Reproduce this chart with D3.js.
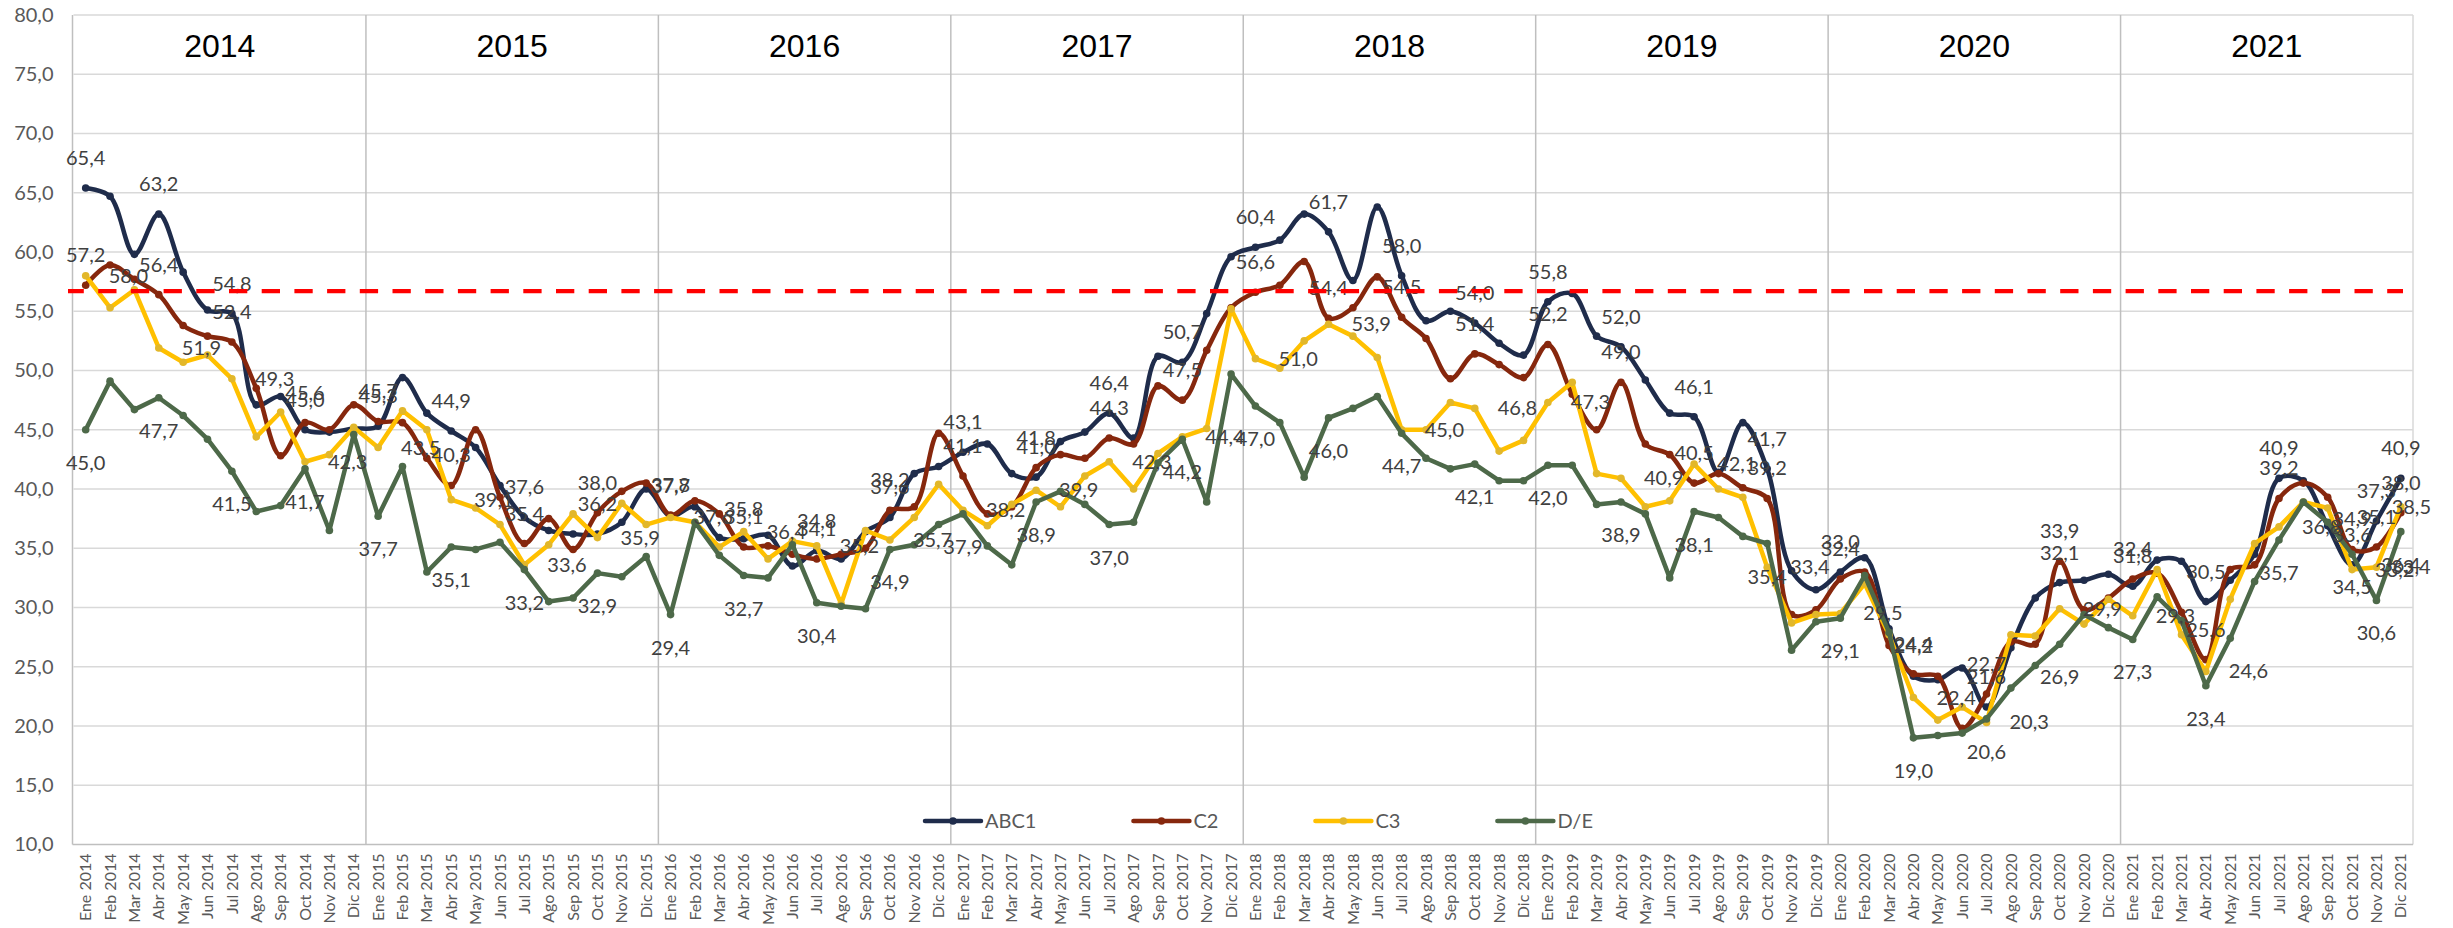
<!DOCTYPE html>
<html><head><meta charset="utf-8">
<script src="https://cdn.jsdelivr.net/npm/d3@7"></script>
<style>body{margin:0;background:#fff;} svg{display:block;}</style>
</head><body>
<svg id="chart" width="2453" height="928"></svg>
<script>
const years = [2014, 2015, 2016, 2017, 2018, 2019, 2020, 2021];
const monthNames = ["Ene","Feb","Mar","Abr","May","Jun","Jul","Ago","Sep","Oct","Nov","Dic"];
const categories = years.flatMap(y => monthNames.map(m => m + " " + y));

const abc1 = [
  65.4, 64.7, 59.8, 63.2, 58.3, 55.1, 54.8, 47.1, 47.8, 45.0, 44.8, 45.1,
  45.3, 49.4, 46.4, 44.9, 43.5, 40.3, 37.6, 36.5, 36.2, 36.2, 37.2, 40.0,
  37.7, 38.5, 35.9, 35.8, 36.1, 33.5, 34.8, 34.1, 36.4, 37.6, 41.3, 41.9,
  43.1, 43.8, 41.3, 41.0, 44.0, 44.8, 46.4, 44.3, 51.2, 50.7, 54.8, 59.6,
  60.4, 61.0, 63.2, 61.7, 57.6, 63.8, 58.0, 54.2, 55.0, 54.0, 52.3, 51.3,
  55.8, 56.5, 52.9, 52.0, 49.2, 46.4, 46.1, 41.4, 45.6, 41.7, 33.1, 31.5,
  33.0, 34.2, 28.2, 24.2, 23.9, 24.9, 21.6, 26.6, 30.8, 32.1, 32.3, 32.8,
  31.8, 34.0, 33.9, 30.5, 32.3, 34.5, 40.9, 40.7, 36.9, 33.6, 37.3, 40.9
];
const c2 = [
  57.2, 58.9, 57.7, 56.4, 53.8, 52.9, 52.4, 48.5, 42.8, 45.6, 45.0, 47.1,
  45.7, 45.6, 42.6, 40.3, 45.0, 39.3, 35.4, 37.5, 34.9, 38.0, 39.8, 40.5,
  37.8, 39.0, 37.9, 35.1, 35.2, 34.5, 34.1, 34.5, 35.0, 38.2, 38.5, 44.7,
  41.1, 37.9, 38.5, 41.8, 42.9, 42.6, 44.3, 43.8, 48.7, 47.5, 51.7, 55.3,
  56.6, 57.2, 59.2, 54.4, 55.3, 57.9, 54.5, 52.7, 49.3, 51.4, 50.5, 49.4,
  52.2, 48.0, 45.0, 49.0, 43.8, 42.9, 40.5, 41.3, 40.1, 39.2, 29.4, 29.8,
  32.4, 33.0, 26.8, 24.4, 24.2, 19.8, 22.7, 27.1, 26.9, 33.9, 29.8, 30.8,
  32.4, 32.9, 29.6, 25.6, 33.2, 33.6, 39.2, 40.5, 39.3, 34.9, 35.1, 38.0
];
const c3 = [
  58.0, 55.3, 56.8, 51.9, 50.7, 51.3, 49.3, 44.4, 46.5, 42.3, 42.9, 45.2,
  43.5, 46.6, 45.0, 39.1, 38.4, 37.0, 33.6, 35.3, 37.9, 35.9, 38.8, 37.0,
  37.6, 37.2, 35.1, 36.4, 34.1, 35.6, 35.2, 30.3, 36.5, 35.7, 37.6, 40.4,
  38.2, 36.9, 38.7, 39.9, 38.5, 41.1, 42.3, 40.0, 43.0, 44.4, 45.1, 55.2,
  51.0, 50.2, 52.5, 53.9, 52.9, 51.1, 45.0, 45.0, 47.3, 46.8, 43.2, 44.1,
  47.3, 49.0, 41.3, 40.9, 38.5, 39.0, 42.1, 40.0, 39.3, 33.4, 28.7, 29.4,
  29.5, 32.0, 27.7, 22.4, 20.5, 21.6, 20.3, 27.7, 27.6, 29.9, 28.6, 30.7,
  29.3, 33.2, 27.7, 24.6, 30.7, 35.4, 36.8, 38.9, 38.4, 33.2, 33.4, 38.5
];
const de = [
  45.0, 49.1, 46.7, 47.7, 46.2, 44.2, 41.5, 38.1, 38.6, 41.7, 36.5, 44.6,
  37.7, 41.9, 33.0, 35.1, 34.9, 35.5, 33.2, 30.5, 30.8, 32.9, 32.6, 34.3,
  29.4, 37.2, 34.4, 32.7, 32.5, 35.3, 30.4, 30.1, 29.9, 34.9, 35.3, 37.0,
  37.9, 35.2, 33.6, 38.9, 39.8, 38.7, 37.0, 37.2, 42.2, 44.2, 38.9, 49.7,
  47.0, 45.6, 41.0, 46.0, 46.8, 47.8, 44.7, 42.6, 41.7, 42.1, 40.7, 40.7,
  42.0, 42.0, 38.7, 38.9, 37.9, 32.5, 38.1, 37.6, 36.0, 35.4, 26.4, 28.8,
  29.1, 32.7, 27.9, 19.0, 19.2, 19.4, 20.6, 23.2, 25.1, 26.9, 29.4, 28.3,
  27.3, 30.9, 28.9, 23.4, 27.4, 32.2, 35.7, 38.9, 37.2, 34.5, 30.6, 36.4
];
const seriesNames = ["ABC1", "C2", "C3", "D/E"];
const seriesColors = ["#1f2c4b", "#86270d", "#ffc000", "#4d6949"];
const labelPositions = ["above", "above", "right", "below"];
const smoothFlags = [true, true, false, false];
const yTicks = [10, 15, 20, 25, 30, 35, 40, 45, 50, 55, 60, 65, 70, 75, 80];
const threshold = 56.7;

const seriesValues = [abc1, c2, c3, de];
const W = 2453, H = 928;
const pL = 73.5, pR = 2413, pT = 15, pB = 844.5;
const svg = d3.select("#chart");
svg.append("rect").attr("width", W).attr("height", H).attr("fill", "#fff");

const x = d3.scaleBand().domain(categories).range([pL, pR]).padding(0);
const bw = x.bandwidth();
const cx = c => x(c) + bw / 2;
const y = d3.scaleLinear().domain([10, 80]).range([pB, pT]);
const fmt = v => d3.format(".1f")(v).replace(".", ",");
const font = "Lato, 'Open Sans', sans-serif";

// horizontal gridlines
svg.append("g").selectAll("line").data(yTicks.filter(t => t > 10)).join("line")
  .attr("x1", pL).attr("x2", pR)
  .attr("y1", d => y(d)).attr("y2", d => y(d))
  .attr("stroke", "#d9d9d9").attr("stroke-width", 1.5);

// year separators
svg.append("g").selectAll("line").data(years.slice(1)).join("line")
  .attr("x1", d => x("Ene " + d)).attr("x2", d => x("Ene " + d))
  .attr("y1", pT).attr("y2", pB)
  .attr("stroke", "#bfbfbf").attr("stroke-width", 1.5);

// right border, left axis line, bottom axis line
svg.append("line").attr("x1", pR).attr("x2", pR).attr("y1", pT).attr("y2", pB)
  .attr("stroke", "#d9d9d9").attr("stroke-width", 1.5);
svg.append("line").attr("x1", pL - 1).attr("x2", pL - 1).attr("y1", pT).attr("y2", pB)
  .attr("stroke", "#bfbfbf").attr("stroke-width", 1.5);
svg.append("line").attr("x1", pL - 1).attr("x2", pR).attr("y1", pB).attr("y2", pB)
  .attr("stroke", "#bfbfbf").attr("stroke-width", 1.5);

// y axis
const yAxis = svg.append("g").attr("transform", `translate(${pL - 1},0)`)
  .call(d3.axisLeft(y).tickValues(yTicks).tickFormat(fmt).tickSize(0).tickPadding(19));
yAxis.select(".domain").remove();
yAxis.selectAll("text").attr("font-family", font).attr("font-size", 20).attr("fill", "#595959");

// x axis
const xAxis = svg.append("g").attr("transform", `translate(0,${pB})`)
  .call(d3.axisBottom(x).tickSize(0));
xAxis.select(".domain").remove();
xAxis.selectAll("text")
  .attr("transform", "rotate(-90)")
  .attr("text-anchor", "end")
  .attr("x", -9).attr("y", 0).attr("dy", "0.35em")
  .attr("font-family", font).attr("font-size", 16).attr("fill", "#595959");

// year labels
svg.append("g").selectAll("text").data(years).join("text")
  .attr("x", d => x("Ene " + d) + 6 * bw)
  .attr("y", 57)
  .attr("text-anchor", "middle")
  .attr("font-family", "'Liberation Sans', Arial, sans-serif")
  .attr("font-size", 32).attr("fill", "#000")
  .text(d => d);

// series
seriesValues.forEach((vals, s) => {
  const data = vals.map((v, i) => ({ c: categories[i], v, i }));
  const line = d3.line().x(d => cx(d.c)).y(d => y(d.v))
    .curve(smoothFlags[s] ? d3.curveCatmullRom.alpha(0.5) : d3.curveLinear);
  const g = svg.append("g");
  g.append("path").datum(data).attr("d", line)
    .attr("fill", "none").attr("stroke", seriesColors[s]).attr("stroke-width", 4.5)
    .attr("stroke-linejoin", "round").attr("stroke-linecap", "round");
  g.selectAll("circle").data(data).join("circle")
    .attr("cx", d => cx(d.c)).attr("cy", d => y(d.v)).attr("r", 3.8)
    .attr("fill", s === 2 ? "#e2b72a" : seriesColors[s]);
});

// data labels
const labelG = svg.append("g");
seriesValues.forEach((vals, s) => {
  const data = vals.map((v, i) => ({ c: categories[i], v, i }))
    .filter(d => d.i % 3 === 0 || d.i >= 94);
  const pos = labelPositions[s];
  labelG.selectAll(null).data(data).join("text")
    .attr("x", d => pos === "right" ? cx(d.c) + 23 : cx(d.c))
    .attr("y", d => pos === "above" ? y(d.v) - 23 : pos === "below" ? y(d.v) + 40 : y(d.v) + 7)
    .attr("text-anchor", pos === "right" ? "start" : "middle")
    .attr("font-family", font).attr("font-size", 20).attr("fill", "#404040")
    .text(d => fmt(d.v))
    .each(function() {
      const t = d3.select(this);
      const bb = this.getBBox();
      if (bb.x + bb.width > W - 22) t.attr("x", +t.attr("x") - (bb.x + bb.width - (W - 22)));
    });
});

// legend
const legend = svg.append("g").attr("transform", "translate(925,821)");
let lx = 0;
seriesNames.forEach((n, s) => {
  const g = legend.append("g").attr("transform", `translate(${lx},0)`);
  g.append("line").attr("x1", 0).attr("x2", 56).attr("y1", 0).attr("y2", 0)
    .attr("stroke", seriesColors[s]).attr("stroke-width", 4.5).attr("stroke-linecap", "round");
  g.append("circle").attr("cx", 28).attr("cy", 0).attr("r", 3.8)
    .attr("fill", s === 2 ? "#e2b72a" : seriesColors[s]);
  const t = g.append("text").attr("x", 60).attr("y", 7)
    .attr("font-family", font).attr("font-size", 20).attr("fill", "#595959").text(n);
  lx += 60 + t.node().getComputedTextLength() + 97;
});

// threshold dashed line
svg.append("line")
  .attr("x1", 68).attr("x2", 2403)
  .attr("y1", y(threshold)).attr("y2", y(threshold))
  .attr("stroke", "#ff0000").attr("stroke-width", 4.2)
  .attr("stroke-dasharray", "18.3,14.4").attr("stroke-dashoffset", 2.5);
</script>
</body></html>
